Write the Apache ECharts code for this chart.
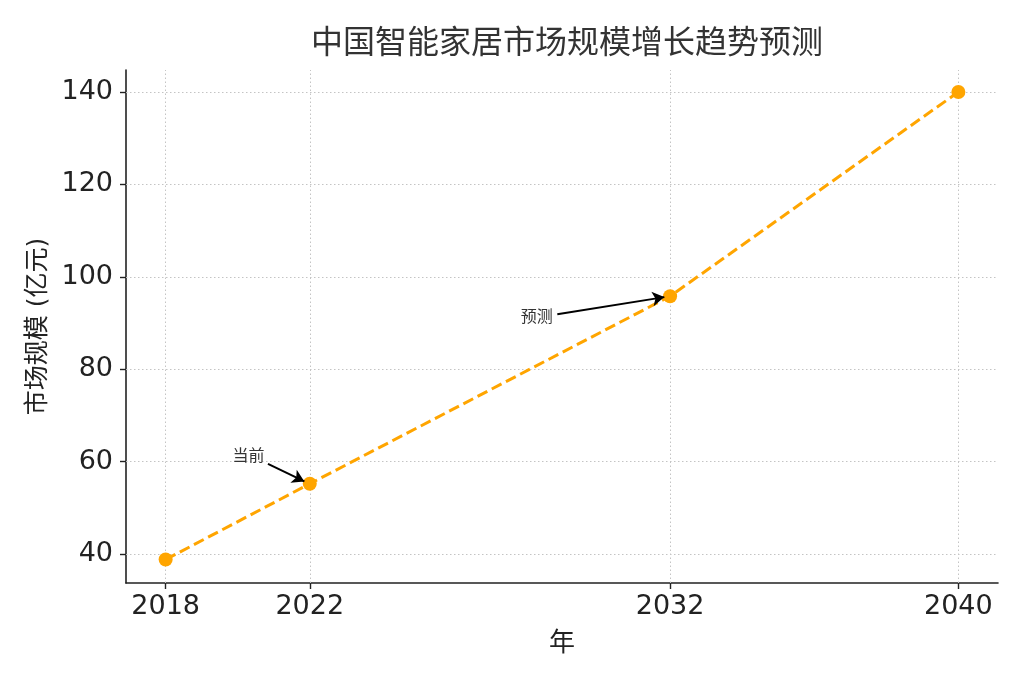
<!DOCTYPE html>
<html><head><meta charset="utf-8">
<script src="https://cdn.jsdelivr.net/npm/echarts@6/dist/echarts.min.js"></script>
<style>html,body{margin:0;padding:0;background:#fff}#c{width:1024px;height:683px}</style>
</head><body><div id="c"></div>
<script>
const years = [2018, 2022, 2032, 2040];
const values = [38.8, 55.2, 95.8, 140];
const yTicks = [40, 60, 80, 100, 120, 140];
const titleText = '中国智能家居市场规模增长趋势预测';
const yName = '市场规模 (亿元)';
const xName = '年';
// annotations: [label, text position [x,y], arrow start [x,y], arrow end [x,y]]
const annotations = [
  ['当前', [2020.3, 61.0], [2020.84, 59.5], [2021.85, 55.7]],
  ['预测', [2028.3, 91.1], [2028.87, 91.9], [2031.84, 95.6]]
];

const FONT = 'DejaVu Sans, "Noto Sans CJK SC", sans-serif';
const grid = {left: 126, right: 26, top: 70, bottom: 100};
const gridLine = {color: '#c4c4c4', width: 1, type: [1.5, 2.5]};

const chart = echarts.init(document.getElementById('c'), null, {renderer: 'canvas'});
chart.setOption({
  backgroundColor: '#fff',
  animation: false,
  title: {
    text: titleText, left: 562, top: 24, textAlign: 'center',
    textStyle: {fontFamily: FONT, fontSize: 32, fontWeight: 'normal', color: '#333'}
  },
  grid: grid,
  xAxis: {
    type: 'value', min: 2016.9, max: 2041.1,
    name: xName, nameLocation: 'middle', nameGap: 48,
    nameTextStyle: {fontFamily: FONT, fontSize: 26, color: '#222'},
    axisLine: {show: true, onZero: false, lineStyle: {color: '#222', width: 1.6}},
    axisTick: {show: true, customValues: years, length: 6, lineStyle: {color: '#222', width: 1.4}},
    axisLabel: {customValues: years, margin: 10, fontFamily: FONT, fontSize: 27, color: '#222', formatter: v => String(v)},
    splitLine: {show: false}
  },
  yAxis: {
    type: 'value', min: 33.72, max: 144.76,
    name: yName, nameLocation: 'middle', nameGap: 74, nameRotate: 90,
    nameTextStyle: {fontFamily: FONT, fontSize: 25, color: '#222'},
    axisLine: {show: true, onZero: false, lineStyle: {color: '#222', width: 1.6}},
    axisTick: {show: true, customValues: yTicks, length: 6, lineStyle: {color: '#222', width: 1.4}},
    axisLabel: {customValues: yTicks, margin: 13, fontFamily: FONT, fontSize: 27, color: '#222', formatter: v => String(v), padding: [4, 0, 0, 0]},
    splitLine: {show: false}
  },
  series: [
    {
      type: 'line', z: 3,
      data: years.map((y, i) => [y, values[i]]),
      symbol: 'circle', symbolSize: 14,
      itemStyle: {color: '#FFA500'},
      lineStyle: {color: '#FFA500', width: 3, type: [11, 5]},
      markLine: {
        silent: true, symbol: 'none', animation: false, z: 1,
        label: {show: false},
        lineStyle: gridLine,
        data: years.map(y => ({xAxis: y})).concat(yTicks.map(v => ({yAxis: v})))
      }
    },
    {
      type: 'line', data: [], z: 5,
      markLine: {
        silent: true, animation: false,
        symbol: ['none', 'arrow'], symbolSize: [11, 12],
        label: {show: false},
        lineStyle: {color: '#000', width: 2, type: 'solid'},
        data: annotations.map(a => [{coord: a[2]}, {coord: a[3]}])
      },
      markPoint: {
        silent: true, animation: false, symbol: 'circle', symbolSize: 0,
        label: {show: true, position: 'inside', fontFamily: FONT, fontSize: 16, color: '#333', formatter: p => p.name},
        data: annotations.map(a => ({name: a[0], coord: a[1]}))
      }
    }
  ]
});
</script></body></html>
